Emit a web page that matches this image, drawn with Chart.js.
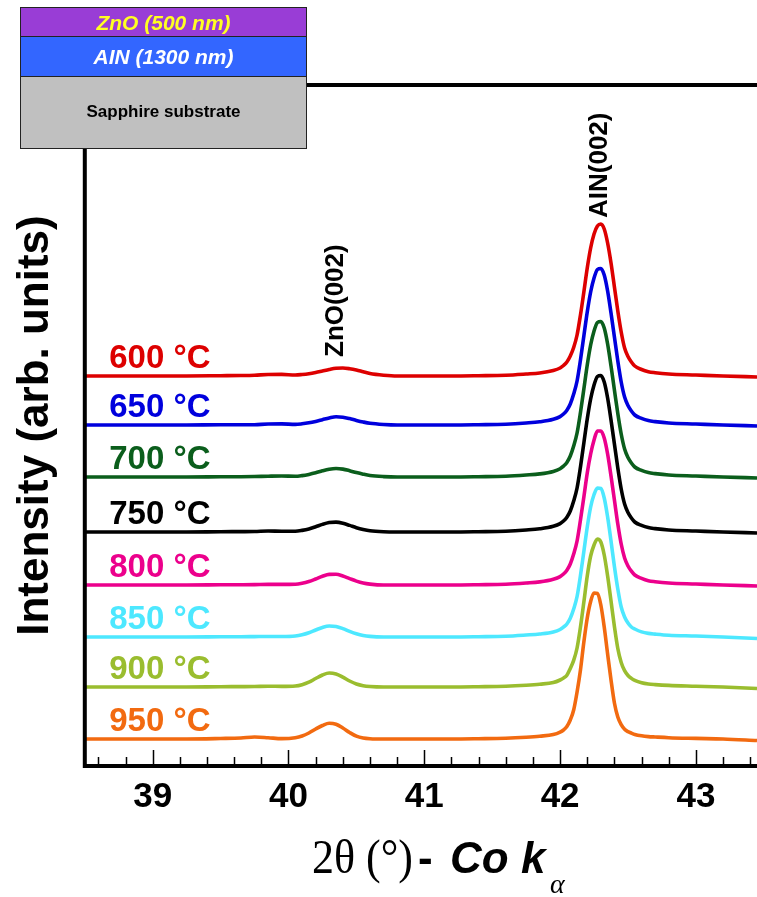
<!DOCTYPE html>
<html><head><meta charset="utf-8">
<script src="https://cdn.jsdelivr.net/npm/chart.js@4.4.1/dist/chart.umd.min.js"></script>
<style>html,body{margin:0;padding:0;background:#fff}#wrap{width:757px;height:897px;position:relative}</style>
</head><body><div id="wrap"><canvas id="c" width="757" height="897"></canvas></div>
<script>
// ---- data (2θ in degrees, intensity in arb. units above each curve's baseline) ----
const twoTheta = [38.5,38.75,39.0,39.25,39.5,39.65,39.75,39.85,39.95,40.05,40.1,40.15,40.2,40.25,40.3,40.35,40.4,40.45,40.5,40.55,40.6,40.7,40.8,41.0,41.2,41.4,41.6,41.75,41.85,41.95,42.0,42.025,42.05,42.075,42.1,42.125,42.15,42.175,42.2,42.225,42.25,42.275,42.3,42.325,42.35,42.375,42.4,42.425,42.45,42.475,42.5,42.525,42.55,42.6,42.65,42.7,42.8,43.0,43.2,43.45];
const temperatures = ['600 °C','650 °C','700 °C','750 °C','800 °C','850 °C','900 °C','950 °C'];
const offsets = [390,341,289,234,181,129,79,27];
const i600 = [0,0,0,0,0.3,0.5,0.8,1.5,1.6,1.0,1.5,2.3,3.5,5,6.5,7.7,8,7.3,6,4.2,2.5,0.8,0,0,0,0.3,0.8,2,3,5.5,8,10.5,14,20,28.5,41,61,84,108,128,142,150,152,147,133,113,89,65,44,28,19.5,14,10,6.5,4.3,3.3,2,1,0,-1];
const i650 = [0,0,0,0,0.2,0.2,0.3,1,1.1,0.6,1.2,2.2,3.6,5.3,7,8.2,7.8,6.4,4.6,3,1.7,0.5,0,0,0,0.3,0.8,2,3.2,5.7,8.4,11,14.8,21,31,44,65,89,113,133,147,155.5,156.5,150,134,112,88,64,43,28,19.5,14,10,6.6,4.4,3.4,2,1,0,-1];
const i700 = [0,0,0,0,0.2,0.3,0.5,0.8,1,0.7,1.4,2.6,4.2,6.2,7.8,8.5,7.9,6.3,4.4,2.8,1.5,0.4,0,0,0,0.3,0.8,2,3.1,5.6,8.3,10.9,14.6,21,31,44,64.5,88,112,132,146,154.5,155.5,149,133,111,87,63.5,43,28,19.5,14,10,6.6,4.4,3.4,2,1,0,-1];
const i750 = [0,0,0,0,0.3,0.4,0.5,1,0.8,0.8,1.6,3,5.2,7.6,9.4,9.9,8.8,6.6,4.3,2.5,1.2,0.2,0,0,0,0.3,0.8,2,3.2,5.7,8.4,11,14.8,21,31,44,65,89,113,133,147,155.5,156.5,150,134,112,88,64,43,28,19.5,14,10,6.6,4.4,3.4,2,1,0,-1];
const i800 = [0,0,0,0,0.2,0.3,0.4,0.6,0.6,0.8,1.8,3.5,6,8.7,10.6,10.7,9,6.4,3.9,2,0.9,0,0,0,0,0.3,0.8,2,3.1,5.7,8.4,11,14.8,21,31,44,65,88,112,131,145,154,154,147,131,109,85,61,41,27,19,13.8,10,6.6,4.3,3.3,2,1,0,-1];
const i850 = [0,0,0,0,0.2,0.3,0.4,0.5,0.5,1,2.2,4.2,7,9.6,11,10.5,8.4,5.6,3.2,1.5,0.6,0,0,0,0,0.3,0.8,2,3,5,7.5,9.9,13,18.8,28,40.5,61.5,85.5,110,130,142.5,149,148.5,139,120,96,70.5,48,30,20,14,10,8,5.1,3.6,2.9,1.8,1,0,-1.5];
const i900 = [0,0,0,0,0.3,0.4,0.5,0.8,0.6,1,2.3,4.8,8.5,12,14,13,9.8,6,3,1.3,0.5,0,0,0,0,0.3,0.8,1.8,2.8,4.4,7,8.9,11.8,18.5,26.6,39,60,85,111,131,142,148,145,132,111,86,60.5,38.5,24.5,16.3,11.5,8.6,6.6,4.2,3,2.4,1.6,0.8,0,-1.5];
const i950 = [0,0,0,0,0.5,1,2,1.3,0.4,1.3,3,6,10,13.5,15.8,14.8,11,6.5,2.8,1,0.3,0,0,0,0,0.3,0.8,1.8,2.8,4.4,6.9,9,12.5,19,29,47,69,97,121,137.5,146,145.5,134,112,85,59,36,22,14.3,9.7,7.4,5.9,4.6,3.2,2.4,2,1.3,0.6,0,-1.5];
const xTicks = [39,40,41,42,43];
const peakLabels = ['ZnO(002)','AIN(002)'];
const peakPositions = [40.35,42.29];
const layers = ['ZnO (500 nm)','AIN (1300 nm)','Sapphire substrate'];

// ---- styles ----
const SANS = "'Liberation Sans', Arial, sans-serif";
const SERIF = "'Liberation Serif', 'Times New Roman', serif";
const colors = ['#dd0000','#0000dd','#0b5e1c','#000000','#ec008c','#4de8ff','#9abd2f','#f26a10'];
const profiles = [i600,i650,i700,i750,i800,i850,i900,i950];

const datasets = profiles.map((p,k)=>({
  label: temperatures[k],
  data: twoTheta.map((t,j)=>({x:t, y:p[j]+offsets[k]})),
  borderColor: colors[k], borderWidth: 3.6, pointRadius: 0,
  cubicInterpolationMode: 'monotone', fill:false
}));

const framePlugin = {
  id:'frame',
  afterDatasetsDraw(chart){
    const {ctx, chartArea:{left,right,top,bottom}, scales:{x,y}} = chart;
    ctx.save();
    ctx.strokeStyle='#000'; ctx.lineWidth=4; ctx.lineCap='butt';
    ctx.beginPath();
    ctx.moveTo(left, top-2); ctx.lineTo(left, bottom+2);
    ctx.moveTo(left-2, bottom); ctx.lineTo(right, bottom);
    ctx.moveTo(left-2, top); ctx.lineTo(right, top);
    ctx.stroke();
    // inward ticks
    ctx.lineWidth=1.5;
    ctx.beginPath();
    for(let k=193;k<=217;k++){
      const v=k*0.2; const px=Math.round(x.getPixelForValue(v))+0.5;
      const major = (k%5===0);
      const len = major?14:7;
      ctx.moveTo(px,bottom-2); ctx.lineTo(px,bottom-2-len);
    }
    ctx.stroke();
    // temperature labels
    ctx.font = "bold 33px "+SANS; ctx.textAlign='left'; ctx.textBaseline='alphabetic';
    temperatures.forEach((t,k)=>{
      ctx.fillStyle=colors[k];
      ctx.fillText(t, x.getPixelForValue(38.68), y.getPixelForValue(offsets[k])-8);
    });
    // peak labels (rotated)
    ctx.fillStyle='#000'; ctx.font="bold 26px "+SANS; ctx.textBaseline='middle';
    const starts=[offsets[0]+19, offsets[0]+158];
    peakLabels.forEach((t,k)=>{
      ctx.save();
      ctx.translate(x.getPixelForValue(peakPositions[k]), y.getPixelForValue(starts[k]));
      ctx.rotate(-Math.PI/2);
      ctx.fillText(t,0,0);
      ctx.restore();
    });
    ctx.restore();
  },
  afterDraw(chart){
    const ctx=chart.ctx;
    ctx.save();
    // x axis title
    ctx.fillStyle='#000'; ctx.textAlign='left'; ctx.textBaseline='alphabetic';
    ctx.font="48px "+SERIF;
    const s='2θ (°)'; const w=ctx.measureText(s).width;
    ctx.save(); ctx.translate(312,873); ctx.scale(101/w,1); ctx.fillText(s,0,0); ctx.restore();
    ctx.font="bold 44px "+SANS; ctx.fillText('-',418,873);
    ctx.font="italic bold 44px "+SANS; ctx.fillText('Co k',450,873);
    ctx.font="italic 28px "+SERIF; ctx.fillText('α',550,893);
    // inset layer diagram
    const bx=20,bw=287;
    const rows=[
      {y:7,h:29,fill:'#993dd6',color:'#ffff22',font:'italic bold 21px '+SANS,base:29.5},
      {y:36,h:40,fill:'#3366ff',color:'#ffffff',font:'italic bold 21px '+SANS,base:64},
      {y:76,h:72,fill:'#c0c0c0',color:'#000000',font:'bold 17px '+SANS,base:117}
    ];
    ctx.textAlign='center';
    rows.forEach((r,k)=>{
      ctx.fillStyle=r.fill; ctx.fillRect(bx,r.y,bw,r.h);
      ctx.strokeStyle='#222'; ctx.lineWidth=1; ctx.strokeRect(bx+0.5,r.y+0.5,bw-1,r.h);
      ctx.fillStyle=r.color; ctx.font=r.font; ctx.fillText(layers[k], bx+bw/2, r.base);
    });
    ctx.restore();
  }
};

new Chart(document.getElementById('c'), {
  type:'line',
  data:{datasets},
  options:{
    responsive:false, animation:false, devicePixelRatio:1,
    layout:{padding:{left:0,right:0,top:85,bottom:69}},
    plugins:{legend:{display:false}, tooltip:{enabled:false}},
    scales:{
      x:{type:'linear', min:38.5, max:43.45,
         grid:{display:false, drawTicks:false}, border:{display:false},
         afterBuildTicks(scale){ scale.ticks = xTicks.map(v=>({value:v})); },
         ticks:{font:{family:SANS, size:35, weight:'bold'}, color:'#000', padding:10, maxRotation:0, autoSkip:false}},
      y:{min:0, max:681,
         grid:{display:false, drawTicks:false}, border:{display:false},
         ticks:{display:false},
         title:{display:true, text:'Intensity (arb. units)', color:'#000',
                font:{family:SANS, size:44, weight:'bold'}, padding:{top:9,bottom:23}}}
    }
  },
  plugins:[framePlugin]
});
</script>
</body></html>
